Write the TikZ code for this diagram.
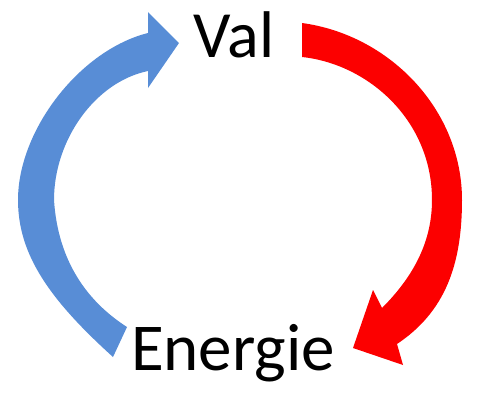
\documentclass[tikz,border=0pt]{standalone}
\usepackage{fontspec}
\setmainfont{Carlito}
\definecolor{cycblue}{RGB}{88,141,214}
\definecolor{cycred}{RGB}{252,0,0}
\tikzset{
  lbl/.style={anchor=base, inner sep=0pt, text=black},
}
\begin{document}
\begin{tikzpicture}[x=1pt,y=-1pt]
\useasboundingbox (0,0) rectangle (480,402);
% blue arrow (Energie -> Val)
\coordinate (b1) at (148,12);
\coordinate (btip) at (179,43);
\coordinate (b2) at (148,88);
\fill[cycblue]
  (113,357) .. controls (50,300) and (18,255) .. (18,200)
            .. controls (18,130) and (80,50) .. (148,33)
  -- (b1) -- (btip) -- (b2) -- (148,71)
            .. controls (95,82) and (54,140) .. (54,200)
            .. controls (58,262) and (88,302) .. (127,327)
  -- cycle;
% red arrow (Val -> Energie)
\coordinate (r1) at (373,290);
\coordinate (rtip) at (353,348);
\coordinate (r2) at (403,365);
\fill[cycred]
  (302,23) .. controls (390,35) and (462,110) .. (462,200)
           .. controls (462,265) and (445,312) .. (397,344)
  -- (r2) -- (rtip) -- (r1) -- (382,308)
           .. controls (415,275) and (432,240) .. (432,200)
           .. controls (432,120) and (368,64) .. (302,57)
  -- cycle;
% labels
\node[lbl] (val) at (234,57) {\fontsize{66}{72}\selectfont Val};
\node[lbl] (energie) at (233,370) {\fontsize{67}{74}\selectfont Energie};
\end{tikzpicture}
\end{document}
